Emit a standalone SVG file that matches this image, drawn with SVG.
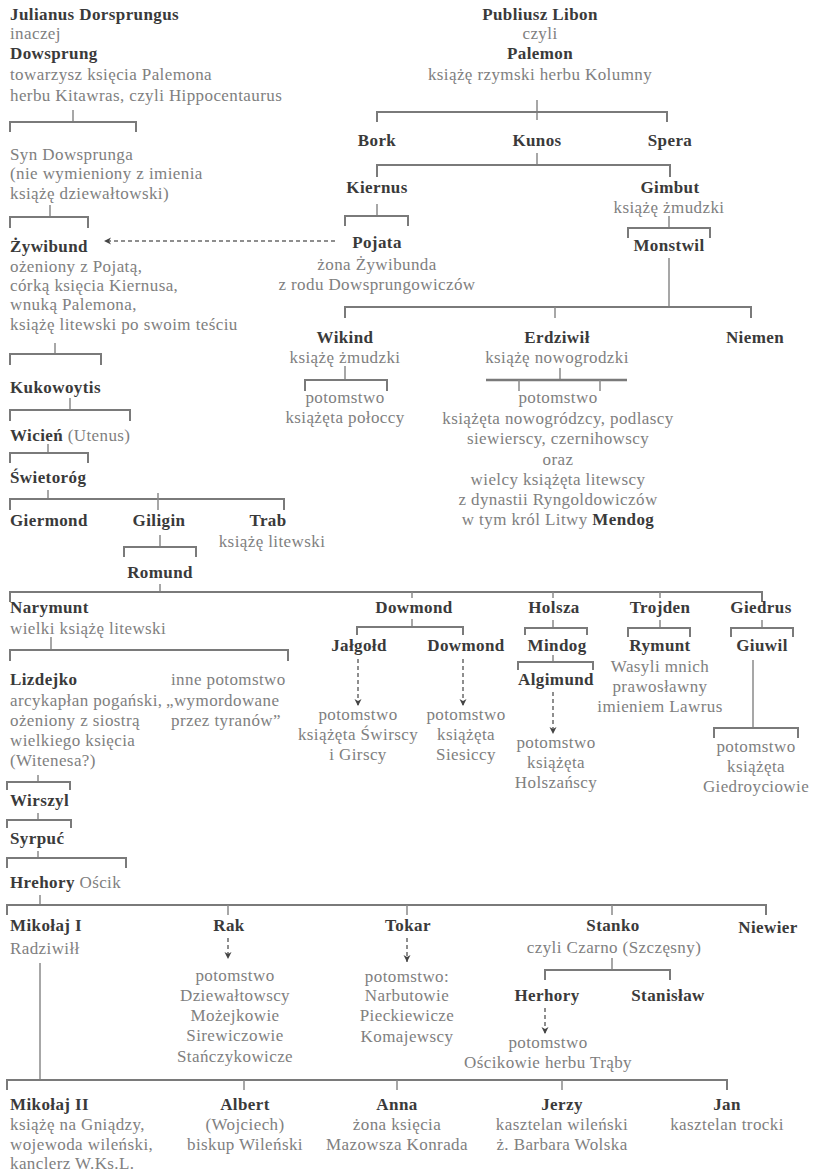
<svg xmlns="http://www.w3.org/2000/svg" width="816" height="1174" viewBox="0 0 816 1174">
<style>
text{font-family:"Liberation Serif","Times New Roman",serif;font-size:17px;letter-spacing:0.4px}
.b{font-weight:bold;fill:#3a3a3a}
.r{fill:#808080}
.c{text-anchor:middle}
.ln{stroke:#7a7a7a;stroke-width:2;fill:none}
.tk{stroke:#8a8a8a;stroke-width:1.5;fill:none}
.da{stroke:#6a6a6a;stroke-width:1.5;stroke-dasharray:4 3;fill:none;marker-end:url(#ah)}
</style>
<defs>
<marker id="ah" markerUnits="userSpaceOnUse" markerWidth="8" markerHeight="8" refX="7" refY="4" orient="auto">
<path d="M0,0.5 L7,4 L0,7.5 L2,4 z" fill="#444"/>
</marker>
</defs>
<rect width="816" height="1174" fill="#fff"/>
<g id="connectors">
<!-- left column -->
<path class="tk" d="M73,110 V122"/><path class="ln" d="M10,132 V122 H136 V132"/>
<path class="tk" d="M50,205 V217"/><path class="ln" d="M10,228 V217 H88 V228"/>
<path class="da" d="M335,241 H104"/>
<path class="tk" d="M55,343 V354"/><path class="ln" d="M10,365 V354 H101 V365"/>
<path class="tk" d="M70,398 V410"/><path class="ln" d="M10,421 V410 H130 V421"/>
<path class="tk" d="M48,444 V453"/><path class="ln" d="M10,463 V453 H88 V463"/>
<path class="tk" d="M48,490 V499"/><path class="ln" d="M10,510 V499 H284 V510"/><path class="tk" d="M158,493 V510"/>
<path class="tk" d="M160,535 V547"/><path class="ln" d="M124,557 V547 H196 V557"/>
<path class="tk" d="M160,584 V592"/>
<!-- top right -->
<path class="tk" d="M537,100 V120"/><path class="ln" d="M377,122 V112 H667 V122"/>
<path class="tk" d="M537,153 V165"/><path class="ln" d="M377,177 V165 H670 V177"/>
<path class="tk" d="M377,204 V216"/><path class="ln" d="M345,226 V216 H408 V226"/>
<path class="tk" d="M669,216 V228"/><path class="ln" d="M628,238 V228 H710 V238"/>
<path class="tk" d="M669,258 V307"/><path class="ln" d="M345,318 V307 H751 V318"/><path class="tk" d="M555,307 V318"/>
<path class="tk" d="M345,366 V380"/><path class="ln" d="M305,391 V380 H387 V391"/>
<path class="tk" d="M560,368 V380"/><path class="ln" d="M486,380 H627" style="stroke-width:2.5"/><path class="tk" d="M519,380 V391 M600,380 V391"/>
<!-- middle row -->
<path class="ln" d="M10,602 V592 H762 V602"/>
<path class="tk" d="M412,592 V598 M553,592 V598 M660,592 V598"/>
<path class="tk" d="M51,637 V650"/><path class="ln" d="M10,661 V650 H288 V661"/>
<path class="tk" d="M412,619 V627"/><path class="ln" d="M357,635 V627 H463 V635"/>
<path class="da" d="M358,659 V706"/><path class="da" d="M463,659 V706"/>
<path class="tk" d="M553,620 V628"/><path class="ln" d="M525,635 V628 H587 V635"/>
<path class="tk" d="M553,655 V662"/><path class="ln" d="M518,670 V662 H593 V670"/>
<path class="da" d="M553,692 V734"/>
<path class="tk" d="M660,620 V628"/><path class="ln" d="M628,637 V628 H690 V637"/>
<path class="tk" d="M762,620 V628"/><path class="ln" d="M731,637 V628 H793 V637"/>
<path class="tk" d="M753,660 V728"/><path class="ln" d="M714,738 V728 H798 V738"/>
<path class="tk" d="M38,775 V782"/><path class="ln" d="M7,790 V782 H70 V790"/>
<path class="tk" d="M38,813 V820"/><path class="ln" d="M7,828 V820 H71 V828"/>
<path class="tk" d="M38,851 V858"/><path class="ln" d="M7,868 V858 H126 V868"/>
<!-- bottom -->
<path class="tk" d="M40,895 V905"/><path class="ln" d="M7,915 V905 H766 V915"/>
<path class="tk" d="M228,905 V915 M407,905 V915 M612,905 V915"/>
<path class="da" d="M228,938 V959"/>
<path class="da" d="M407,938 V962"/>
<path class="tk" d="M612,958 V970"/><path class="ln" d="M545,980 V970 H670 V980"/>
<path class="da" d="M545,1008 V1034"/>
<path class="tk" d="M40,963 V1080"/>
<path class="ln" d="M7,1090 V1080 H727 V1090"/>
<path class="tk" d="M244,1080 V1090 M397,1080 V1090 M562,1080 V1090"/>
</g>
<g id="n-dowsprung"><text x="10" y="20" class="b">Julianus Dorsprungus</text><text x="10" y="39" class="r">inaczej</text><text x="10" y="59" class="b">Dowsprung</text><text x="10" y="80" class="r">towarzysz księcia Palemona</text><text x="10" y="101" class="r">herbu Kitawras, czyli Hippocentaurus</text></g>
<g id="n-syn"><text x="10" y="160" class="r">Syn Dowsprunga</text><text x="10" y="179" class="r">(nie wymieniony z imienia</text><text x="10" y="199" class="r">książę dziewałtowski)</text></g>
<g id="n-zywibund"><text x="10" y="252" class="b">Żywibund</text><text x="10" y="272" class="r">ożeniony z Pojatą,</text><text x="10" y="291" class="r">córką księcia Kiernusa,</text><text x="10" y="310" class="r">wnuką Palemona,</text><text x="10" y="330" class="r">książę litewski po swoim teściu</text></g>
<g id="n-kukowoytis"><text x="10" y="393" class="b">Kukowoytis</text></g>
<g id="n-wicien"><text x="10" y="441"><tspan class="b">Wicień</tspan><tspan class="r"> (Utenus)</tspan></text></g>
<g id="n-swietorog"><text x="10" y="483" class="b">Świetoróg</text></g>
<g id="n-giermond"><text x="10" y="526" class="b">Giermond</text></g>
<g id="n-giligin"><text x="159" y="526" class="b c">Giligin</text></g>
<g id="n-trab"><text x="268" y="526" class="b c">Trab</text><text x="272" y="547" class="r c">książę litewski</text></g>
<g id="n-romund"><text x="160" y="578" class="b c">Romund</text></g>
<g id="n-palemon"><text x="540" y="20" class="b c">Publiusz Libon</text><text x="540" y="39" class="r c">czyli</text><text x="540" y="59" class="b c">Palemon</text><text x="540" y="80" class="r c">książę rzymski herbu Kolumny</text></g>
<g id="n-bork"><text x="377" y="146" class="b c">Bork</text></g>
<g id="n-kunos"><text x="537" y="146" class="b c">Kunos</text></g>
<g id="n-spera"><text x="670" y="146" class="b c">Spera</text></g>
<g id="n-kiernus"><text x="377" y="193" class="b c">Kiernus</text></g>
<g id="n-gimbut"><text x="670" y="193" class="b c">Gimbut</text><text x="669" y="213" class="r c">książę żmudzki</text></g>
<g id="n-pojata"><text x="377" y="248" class="b c">Pojata</text><text x="377" y="270" class="r c">żona Żywibunda</text><text x="377" y="290" class="r c">z rodu Dowsprungowiczów</text></g>
<g id="n-monstwil"><text x="669" y="251" class="b c">Monstwil</text></g>
<g id="n-wikind"><text x="345" y="343" class="b c">Wikind</text><text x="345" y="363" class="r c">książę żmudzki</text></g>
<g id="n-wikind-pot"><text x="345" y="403" class="r c">potomstwo</text><text x="345" y="423" class="r c">książęta połoccy</text></g>
<g id="n-erdziwil"><text x="557" y="343" class="b c">Erdziwił</text><text x="557" y="363" class="r c">książę nowogrodzki</text></g>
<g id="n-erdziwil-pot"><text x="558" y="403" class="r c">potomstwo</text><text x="558" y="424" class="r c">książęta nowogródzcy, podlascy</text><text x="558" y="444" class="r c">siewierscy, czernihowscy</text><text x="558" y="465" class="r c">oraz</text><text x="558" y="485" class="r c">wielcy książęta litewscy</text><text x="558" y="505" class="r c">z dynastii Ryngoldowiczów</text><text x="558" y="525" class="c"><tspan class="r">w tym król Litwy </tspan><tspan class="b">Mendog</tspan></text></g>
<g id="n-niemen"><text x="755" y="343" class="b c">Niemen</text></g>
<g id="n-narymunt"><text x="10" y="613" class="b">Narymunt</text><text x="10" y="634" class="r">wielki książę litewski</text></g>
<g id="n-lizdejko"><text x="10" y="685" class="b">Lizdejko</text><text x="10" y="706" class="r">arcykapłan pogański,</text><text x="10" y="726" class="r">ożeniony z siostrą</text><text x="10" y="746" class="r">wielkiego księcia</text><text x="10" y="766" class="r">(Witenesa?)</text></g>
<g id="n-inne"><text x="171" y="685" class="r">inne potomstwo</text><text x="166" y="706" class="r">„wymordowane</text><text x="171" y="726" class="r">przez tyranów”</text></g>
<g id="n-wirszyl"><text x="10" y="806" class="b">Wirszyl</text></g>
<g id="n-syrpuc"><text x="10" y="844" class="b">Syrpuć</text></g>
<g id="n-hrehory"><text x="10" y="888"><tspan class="b">Hrehory</tspan><tspan class="r"> Ościk</tspan></text></g>
<g id="n-dowmond"><text x="414" y="613" class="b c">Dowmond</text></g>
<g id="n-holsza"><text x="554" y="613" class="b c">Holsza</text></g>
<g id="n-trojden"><text x="660" y="613" class="b c">Trojden</text></g>
<g id="n-giedrus"><text x="761" y="613" class="b c">Giedrus</text></g>
<g id="n-jalgold"><text x="359" y="651" class="b c">Jałgołd</text></g>
<g id="n-dowmond2"><text x="466" y="651" class="b c">Dowmond</text></g>
<g id="n-jalgold-pot"><text x="358" y="720" class="r c">potomstwo</text><text x="358" y="740" class="r c">książęta Świrscy</text><text x="358" y="760" class="r c">i Girscy</text></g>
<g id="n-dowmond2-pot"><text x="466" y="720" class="r c">potomstwo</text><text x="466" y="740" class="r c">książęta</text><text x="466" y="760" class="r c">Siesiccy</text></g>
<g id="n-mindog"><text x="557" y="651" class="b c">Mindog</text></g>
<g id="n-algimund"><text x="556" y="685" class="b c">Algimund</text></g>
<g id="n-algimund-pot"><text x="556" y="748" class="r c">potomstwo</text><text x="556" y="768" class="r c">książęta</text><text x="556" y="788" class="r c">Holszańscy</text></g>
<g id="n-rymunt"><text x="660" y="651" class="b c">Rymunt</text><text x="660" y="672" class="r c">Wasyli mnich</text><text x="660" y="692" class="r c">prawosławny</text><text x="660" y="712" class="r c">imieniem Lawrus</text></g>
<g id="n-giuwil"><text x="762" y="651" class="b c">Giuwil</text></g>
<g id="n-giuwil-pot"><text x="756" y="752" class="r c">potomstwo</text><text x="756" y="772" class="r c">książęta</text><text x="756" y="792" class="r c">Giedroyciowie</text></g>
<g id="n-mikolaj1"><text x="10" y="931" class="b">Mikołaj I</text><text x="10" y="954" class="r">Radziwiłł</text></g>
<g id="n-rak"><text x="229" y="931" class="b c">Rak</text></g>
<g id="n-rak-pot"><text x="235" y="981" class="r c">potomstwo</text><text x="235" y="1001" class="r c">Dziewałtowscy</text><text x="235" y="1021" class="r c">Możejkowie</text><text x="235" y="1041" class="r c">Sirewiczowie</text><text x="235" y="1062" class="r c">Stańczykowicze</text></g>
<g id="n-tokar"><text x="408" y="931" class="b c">Tokar</text></g>
<g id="n-tokar-pot"><text x="407" y="982" class="r c">potomstwo:</text><text x="407" y="1001" class="r c">Narbutowie</text><text x="407" y="1021" class="r c">Pieckiewicze</text><text x="407" y="1042" class="r c">Komajewscy</text></g>
<g id="n-stanko"><text x="613" y="931" class="b c">Stanko</text><text x="614" y="953" class="r c">czyli Czarno (Szczęsny)</text></g>
<g id="n-niewier"><text x="768" y="933" class="b c">Niewier</text></g>
<g id="n-herhory"><text x="547" y="1001" class="b c">Herhory</text></g>
<g id="n-stanislaw"><text x="668" y="1001" class="b c">Stanisław</text></g>
<g id="n-herhory-pot"><text x="548" y="1048" class="r c">potomstwo</text><text x="548" y="1068" class="r c">Ościkowie herbu Trąby</text></g>
<g id="n-mikolaj2"><text x="10" y="1110" class="b">Mikołaj II</text><text x="10" y="1130" class="r">książę na Gniądzy,</text><text x="10" y="1150" class="r">wojewoda wileński,</text><text x="10" y="1169" class="r">kanclerz W.Ks.L.</text></g>
<g id="n-albert"><text x="245" y="1110" class="b c">Albert</text><text x="245" y="1130" class="r c">(Wojciech)</text><text x="245" y="1150" class="r c">biskup Wileński</text></g>
<g id="n-anna"><text x="397" y="1110" class="b c">Anna</text><text x="397" y="1130" class="r c">żona księcia</text><text x="397" y="1150" class="r c">Mazowsza Konrada</text></g>
<g id="n-jerzy"><text x="562" y="1110" class="b c">Jerzy</text><text x="562" y="1130" class="r c">kasztelan wileński</text><text x="562" y="1150" class="r c">ż. Barbara Wolska</text></g>
<g id="n-jan"><text x="727" y="1110" class="b c">Jan</text><text x="727" y="1130" class="r c">kasztelan trocki</text></g>
</svg>
